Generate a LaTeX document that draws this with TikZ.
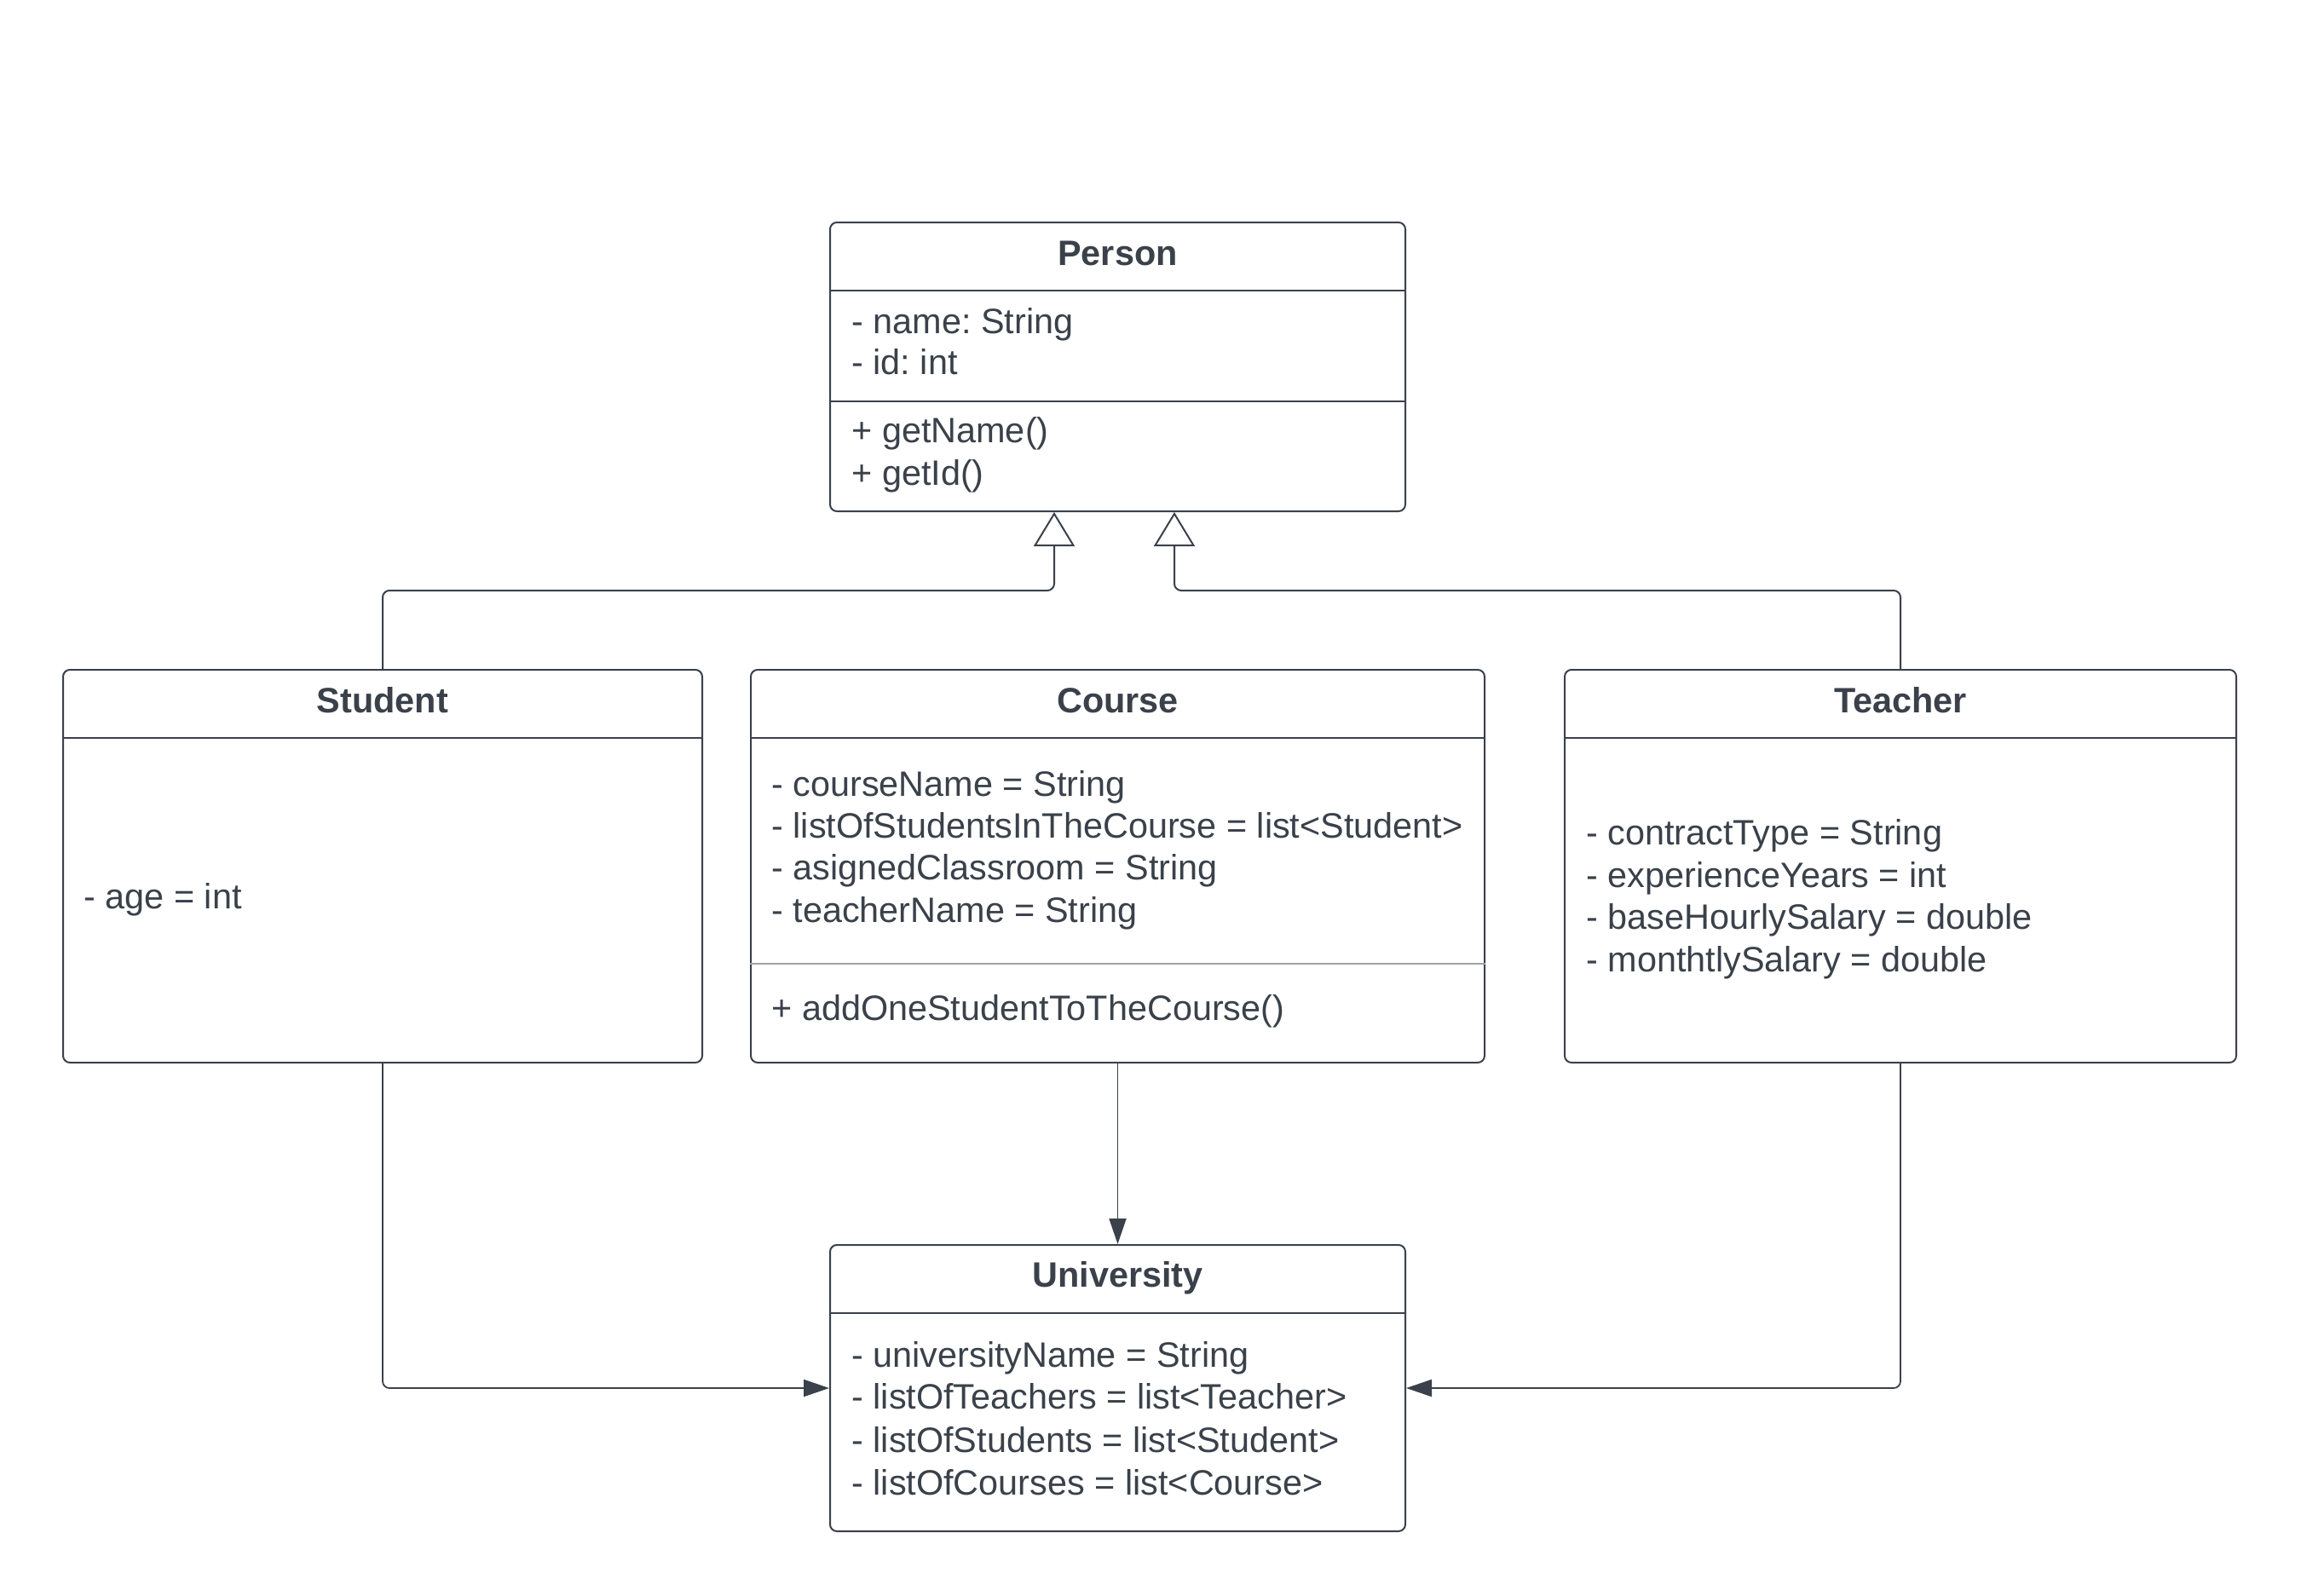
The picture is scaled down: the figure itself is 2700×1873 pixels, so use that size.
\documentclass[tikz,border=0pt]{standalone}
\usepackage{fontspec}
\setmainfont{Liberation Sans}
\usetikzlibrary{arrows.meta}
\definecolor{ink}{HTML}{3A414A}
\definecolor{divgray}{HTML}{9EA2A8}
\frenchspacing
\begin{document}
\begin{tikzpicture}[x=0.5pt,y=-0.5pt,
  classbox/.style={draw=ink, line width=1pt, rounded corners=4pt, fill=white, inner sep=0pt},
  ctitle/.style={font=\bfseries\fontsize{20.7}{25}\selectfont, text=ink, anchor=base, inner sep=0pt},
  item/.style={font=\fontsize{20.7}{25}\selectfont, text=ink, anchor=base west, inner sep=0pt},
  divider/.style={draw=ink, line width=1pt},
  lightdivider/.style={draw=divgray, line width=0.7pt},
  inh/.style={draw=ink, line width=1pt, rounded corners=4pt, -{Triangle[open, length=20pt, width=24pt, fill=white, line width=1pt]}},
  assoc/.style={draw=ink, line width=0.9pt, rounded corners=4pt, -{Triangle[length=15pt, width=10pt]}}
]
\useasboundingbox[fill=white] (0,0) rectangle (2700,1873);

% boxes
\node[classbox, minimum width=337.5pt, minimum height=169.5pt] (person) at (1311.5,430.5) {};
\node[classbox, minimum width=375pt, minimum height=230.5pt] (student) at (449,1016.5) {};
\node[classbox, minimum width=430.5pt, minimum height=230.5pt] (course) at (1311.5,1016.5) {};
\node[classbox, minimum width=394pt, minimum height=230.5pt] (teacher) at (2230,1016.5) {};
\node[classbox, minimum width=337.5pt, minimum height=168pt] (univ) at (1311.5,1629) {};

% dividers
\draw[divider] (person.west |- 0,341) -- (person.east |- 0,341);
\draw[divider] (person.west |- 0,471) -- (person.east |- 0,471);
\draw[divider] (student.west |- 0,866) -- (student.east |- 0,866);
\draw[divider] (course.west |- 0,866) -- (course.east |- 0,866);
\draw[lightdivider] (course.west |- 0,1131) -- (course.east |- 0,1131);
\draw[divider] (teacher.west |- 0,866) -- (teacher.east |- 0,866);
\draw[divider] (univ.west |- 0,1541) -- (univ.east |- 0,1541);

% Person
\node[ctitle] (pt) at (1311.5,311) {Person};
\node[item] (p1) at (999,391) {- name: String};
\node[item] (p2) at (999,439) {- id: int};
\node[item] (p3) at (999,519) {+ getName()};
\node[item] (p4) at (999,569) {+ getId()};

% Student
\node[ctitle] (st) at (449,836) {Student};
\node[item] (s1) at (98,1066) {- age = int};

% Course
\node[ctitle] (ct) at (1311.5,836) {Course};
\node[item] (c1) at (905,934) {- courseName = String};
\node[item] (c2) at (905,983) {- listOfStudentsInTheCourse = list<Student>};
\node[item] (c3) at (905,1032) {- asignedClassroom = String};
\node[item] (c4) at (905,1082) {- teacherName = String};
\node[item] (c5) at (905,1197) {+ addOneStudentToTheCourse()};

% Teacher
\node[ctitle] (tt) at (2230,836) {Teacher};
\node[item] (t1) at (1861,991) {- contractType = String};
\node[item] (t2) at (1861,1041) {- experienceYears = int};
\node[item] (t3) at (1861,1090) {- baseHourlySalary = double};
\node[item] (t4) at (1861,1140) {- monthtlySalary = double};

% University
\node[ctitle] (ut) at (1311.5,1510) {University};
\node[item] (u1) at (999,1604) {- universityName = String};
\node[item] (u2) at (999,1653) {- listOfTeachers = list<Teacher>};
\node[item] (u3) at (999,1704) {- listOfStudents = list<Student>};
\node[item] (u4) at (999,1754) {- listOfCourses = list<Course>};

% inheritance
\coordinate (k1) at (1237,693);
\coordinate (k2) at (1378,693);
\draw[inh] (student.north) |- (k1) -- (k1 |- person.south);
\draw[inh] (teacher.north) |- (k2) -- (k2 |- person.south);

% associations
\draw[assoc] (course.south) -- (univ.north);
\draw[assoc] (student.south) |- (univ.west);
\draw[assoc] (teacher.south) |- (univ.east);
\end{tikzpicture}
\end{document}
